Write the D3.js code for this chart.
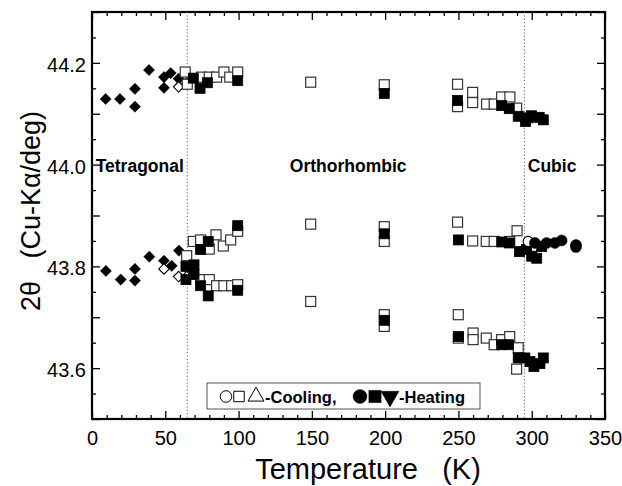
<!DOCTYPE html>
<html lang="en">
  <head>
    <meta charset="utf-8" />
    <title>2θ (Cu-Kα) vs Temperature</title>
    <script src="https://d3js.org/d3.v7.min.js"></script>
    <style>
      body {
        margin: 0;
        background: #fff;
        font-family: "Liberation Sans", Arial, sans-serif;
      }
      svg {
        display: block;
      }
      .frame line,
      .frame path {
        stroke: #000;
      }
      .tick text {
        font-family: "Liberation Sans", Arial, sans-serif;
      }
      .pre {
        white-space: pre;
      }
    </style>
  </head>
  <body>
    <div id="chart"></div>
    <script>
      /* ----------------------------- DATA ----------------------------- */
      // [temperature K, 2θ deg]
      const heatDiamond = [
        [9.3, 44.129], [19.1, 44.129], [29.3, 44.149], [29.3, 44.114],
        [38.9, 44.186], [49.1, 44.172], [49.1, 44.151], [53.7, 44.18],
        [59.1, 44.169],
        [9.5, 43.791], [19.6, 43.774], [29.3, 43.795], [29.3, 43.772],
        [39.1, 43.819], [49.1, 43.811], [54.4, 43.801], [59.3, 43.831]
      ];
      const coolDiamond = [
        [59.1, 44.153], [64.6, 44.16],
        [49.1, 43.795], [59.1, 43.78], [64.6, 43.78]
      ];
      const coolSquare = [
        // upper peak
        [63.6, 44.182], [65, 44.158], [74.8, 44.172], [80, 44.172],
        [85, 44.172], [90, 44.182], [94, 44.172], [99.4, 44.182],
        [149.2, 44.162], [199.4, 44.157], [249.4, 44.158], [249.4, 44.114],
        [259.7, 44.142], [259.7, 44.122], [269.2, 44.119], [274.4, 44.119],
        [279.5, 44.133], [285.1, 44.133], [289.7, 44.111],
        // middle peak
        [64.6, 43.821], [69.1, 43.849], [74.1, 43.852], [80, 43.834],
        [84.6, 43.862], [89.6, 43.84], [94.6, 43.852], [99.4, 43.869],
        [149.2, 43.883], [199.4, 43.878], [199.4, 43.849], [249.4, 43.887],
        [259.7, 43.85], [269, 43.849], [274.4, 43.849], [285, 43.849],
        [290, 43.87],
        // lower peak
        [74.1, 43.774], [80, 43.774], [85, 43.762], [90, 43.762],
        [95.3, 43.762], [99.4, 43.764], [149.2, 43.731], [199.4, 43.705],
        [199.4, 43.682], [249.9, 43.705], [249.9, 43.659], [260, 43.669],
        [260, 43.656], [269, 43.659], [274.4, 43.646], [279.5, 43.656],
        [285, 43.662], [290.8, 43.64], [289.7, 43.598]
      ];
      const heatSquare = [
        // upper peak
        [69.1, 44.17], [73.7, 44.15], [78.7, 44.161], [99.4, 44.165],
        [199.4, 44.14], [249.4, 44.126], [279.5, 44.116], [284.7, 44.11],
        [290.8, 44.095], [295.8, 44.085], [297.6, 44.092], [299.9, 44.096],
        [305.1, 44.093], [307.9, 44.088],
        // middle peak
        [64.1, 43.8], [69.6, 43.803], [74.1, 43.833], [79.3, 43.849],
        [99.4, 43.88], [199.4, 43.864], [250, 43.852], [279.5, 43.848],
        [284.7, 43.846], [291.6, 43.829], [296.5, 43.833], [300, 43.82],
        [303.4, 43.816], [306.8, 43.839],
        // lower peak
        [64.1, 43.774], [69.6, 43.784], [74.1, 43.762], [79.3, 43.742],
        [99.4, 43.753], [199.4, 43.694], [250, 43.662], [279.5, 43.646],
        [284, 43.646], [290.8, 43.62], [295.3, 43.62], [298.8, 43.613],
        [301.5, 43.603], [305.6, 43.609], [307.9, 43.62]
      ];
      const coolCircle = [[297.6, 43.849]];
      const heatCircle = [
        [302.2, 43.846], [310.2, 43.846], [315.8, 43.846], [320.4, 43.851],
        [330.2, 43.838], [330.2, 43.842]
      ];

      const phaseLines = [65, 295];
      const phases = [
        { name: "Tetragonal", t: 2.5 },
        { name: "Orthorhombic", t: 135 },
        { name: "Cubic", t: 297.3 }
      ];
      const xTicks = [0, 50, 100, 150, 200, 250, 300, 350];
      const yTicks = [43.6, 43.8, 44.0, 44.2];

      /* ---------------------------- LAYOUT ---------------------------- */
      const W = 622,
        H = 486,
        m = { t: 12, r: 17, b: 67, l: 92 },
        w = W - m.l - m.r,
        h = H - m.t - m.b;

      const root = d3
        .select("#chart")
        .append("svg")
        .attr("width", W)
        .attr("height", H);

      const g = root.append("g").attr("transform", `translate(${m.l},${m.t})`);

      const x = d3.scaleLinear().domain([0, 350]).range([0, w]);
      const y = d3.scaleLinear().domain([43.5, 44.3]).range([h, 0]);

      /* ----------------------------- AXES ----------------------------- */
      const minorX = d3.range(0, 351, 10).filter((v) => v % 50 !== 0);
      const minorY = d3.range(43.5, 44.3001, 0.05).filter(
        (v) => Math.abs(Math.round(v * 10) - v * 10) > 0.01
      );
      const majorY = d3.range(43.5, 44.3001, 0.1);

      // bottom
      g.append("g")
        .attr("class", "frame")
        .attr("transform", `translate(0,${h})`)
        .call(d3.axisBottom(x).tickValues(xTicks).tickSize(-8).tickPadding(12).tickFormat(d3.format("d")))
        .call((s) => s.select(".domain").remove())
        .selectAll("text")
        .attr("font-size", 20);
      g.append("g")
        .attr("class", "frame")
        .attr("transform", `translate(0,${h})`)
        .call(d3.axisBottom(x).tickValues(minorX).tickSize(-4).tickFormat(""))
        .call((s) => s.select(".domain").remove());
      // top
      g.append("g")
        .attr("class", "frame")
        .call(d3.axisTop(x).tickValues(xTicks).tickSize(-8).tickFormat(""))
        .call((s) => s.select(".domain").remove());
      g.append("g")
        .attr("class", "frame")
        .call(d3.axisTop(x).tickValues(minorX).tickSize(-4).tickFormat(""))
        .call((s) => s.select(".domain").remove());
      // left
      g.append("g")
        .attr("class", "frame")
        .call(d3.axisLeft(y).tickValues(yTicks).tickSize(-8).tickPadding(6).tickFormat(d3.format(".1f")))
        .call((s) => s.select(".domain").remove())
        .selectAll("text")
        .attr("font-size", 20)
        .attr("dy", "0.42em");
      g.append("g")
        .attr("class", "frame")
        .call(d3.axisLeft(y).tickValues(majorY.filter((v) => !yTicks.some((t) => Math.abs(t - v) < 1e-6))).tickSize(-8).tickFormat(""))
        .call((s) => s.select(".domain").remove());
      g.append("g")
        .attr("class", "frame")
        .call(d3.axisLeft(y).tickValues(minorY).tickSize(-4).tickFormat(""))
        .call((s) => s.select(".domain").remove());
      // right
      g.append("g")
        .attr("class", "frame")
        .attr("transform", `translate(${w},0)`)
        .call(d3.axisRight(y).tickValues(majorY).tickSize(-8).tickFormat(""))
        .call((s) => s.select(".domain").remove());
      g.append("g")
        .attr("class", "frame")
        .attr("transform", `translate(${w},0)`)
        .call(d3.axisRight(y).tickValues(minorY).tickSize(-4).tickFormat(""))
        .call((s) => s.select(".domain").remove());

      g.selectAll(".frame .tick line").attr("stroke-width", 1.3);

      // outer frame
      g.append("rect")
        .attr("width", w)
        .attr("height", h)
        .attr("fill", "none")
        .attr("stroke", "#000")
        .attr("stroke-width", 2.2);

      /* ------------------------ PHASE BOUNDARIES ----------------------- */
      g.selectAll("line.phase")
        .data(phaseLines)
        .join("line")
        .attr("class", "phase")
        .attr("x1", (d) => x(d))
        .attr("x2", (d) => x(d))
        .attr("y1", 0)
        .attr("y2", h)
        .attr("stroke", "#666")
        .attr("stroke-width", 1)
        .attr("stroke-dasharray", "1.2,2.2");

      g.selectAll("text.phase")
        .data(phases)
        .join("text")
        .attr("class", "phase")
        .attr("x", (d) => x(d.t))
        .attr("y", y(44.0) + 7)
        .attr("font-size", 17.5)
        .attr("font-weight", "bold")
        .text((d) => d.name);

      /* ----------------------------- MARKS ----------------------------- */
      const sq = 10;
      const drawSquares = (data, filled) =>
        g.append("g")
          .selectAll("rect")
          .data(data)
          .join("rect")
          .attr("x", (d) => x(d[0]) - sq / 2)
          .attr("y", (d) => y(d[1]) - sq / 2)
          .attr("width", sq)
          .attr("height", sq)
          .attr("fill", filled ? "#000" : "#fff")
          .attr("stroke", filled ? "#000" : "#333")
          .attr("stroke-width", filled ? 0.8 : 1.2);

      const drawSymbols = (data, type, size, filled) =>
        g.append("g")
          .selectAll("path")
          .data(data)
          .join("path")
          .attr("transform", (d) => `translate(${x(d[0])},${y(d[1])})`)
          .attr("d", d3.symbol(type, size))
          .attr("fill", filled ? "#000" : "#fff")
          .attr("stroke", "#000")
          .attr("stroke-width", filled ? 0.5 : 1.1);

      const diamond = {
        draw(ctx, size) {
          const r = Math.sqrt(size) / 2;
          ctx.moveTo(0, -r);
          ctx.lineTo(r, 0);
          ctx.lineTo(0, r);
          ctx.lineTo(-r, 0);
          ctx.closePath();
        }
      };

      drawSymbols(heatDiamond, diamond, 125, true);
      drawSymbols(coolDiamond, diamond, 110, false);
      drawSquares(coolSquare, false);
      drawSquares(heatSquare, true);
      drawSymbols(coolCircle, d3.symbolCircle, 80, false);
      drawSymbols(heatCircle, d3.symbolCircle, 95, true);

      /* ----------------------------- LEGEND ---------------------------- */
      const lg = root.append("g").attr("transform", "translate(207,383)");
      lg.append("rect")
        .attr("width", 273)
        .attr("height", 26)
        .attr("fill", "#fff")
        .attr("stroke", "#555")
        .attr("stroke-width", 1);

      const legendSyms = [
        { type: d3.symbolCircle, size: 105, filled: false, x: 19 },
        { type: d3.symbolSquare, size: 110, filled: false, x: 32 },
        { type: d3.symbolTriangle, size: 110, filled: false, x: 49 },
        { type: d3.symbolCircle, size: 150, filled: true, x: 153 },
        { type: d3.symbolSquare, size: 150, filled: true, x: 168 },
        { type: d3.symbolTriangle, size: 140, filled: true, x: 183, flip: true }
      ];
      lg.selectAll("path")
        .data(legendSyms)
        .join("path")
        .attr("transform", (d) => `translate(${d.x},13.5)${d.flip ? " rotate(180)" : ""}`)
        .attr("d", (d) => d3.symbol(d.type, d.size)())
        .attr("fill", (d) => (d.filled ? "#000" : "#fff"))
        .attr("stroke", "#000")
        .attr("stroke-width", (d) => (d.filled ? 0.5 : 1));

      lg.append("text")
        .attr("x", 58)
        .attr("y", 20)
        .attr("font-size", 16.5)
        .attr("font-weight", "bold")
        .text("-Cooling,");
      lg.append("text")
        .attr("x", 192)
        .attr("y", 20)
        .attr("font-size", 16.5)
        .attr("font-weight", "bold")
        .text("-Heating");

      /* ---------------------------- TITLES ----------------------------- */
      root.append("text")
        .attr("class", "pre")
        .attr("x", 368)
        .attr("y", 479)
        .attr("text-anchor", "middle")
        .attr("font-size", 29)
        .text("Temperature   (K)");

      root.append("text")
        .attr("class", "pre")
        .attr("transform", "translate(40,211) rotate(-90)")
        .attr("text-anchor", "middle")
        .attr("font-size", 27)
        .text("2θ   (Cu-Kα/deg)");
    </script>
  </body>
</html>
